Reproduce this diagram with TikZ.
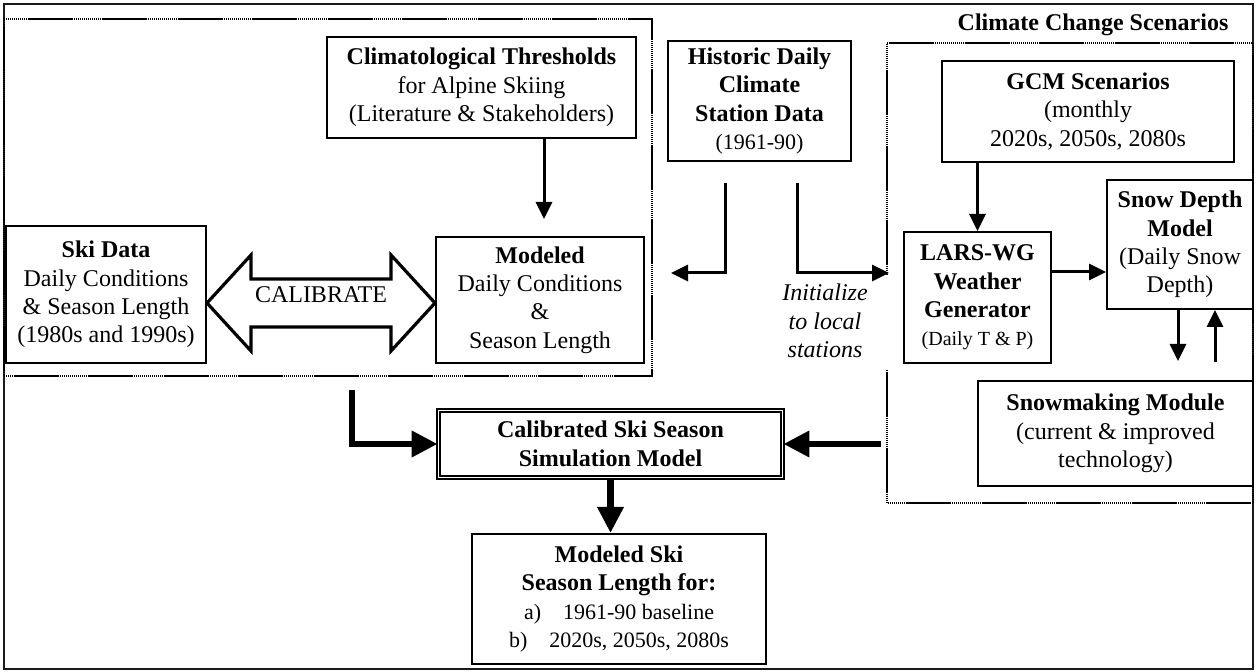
\documentclass[tikz,border=0pt]{standalone}
\usepackage{fontspec}
\setmainfont{Liberation Serif}
\usepackage{tikz}
\usetikzlibrary{arrows.meta,calc}
\definecolor{skink}  {HTML}{000000}
\definecolor{skframe}{HTML}{1A1A1A}
\newcommand{\sksmall}{\fontsize{11}{13}\selectfont}
\tikzset{
  skbox/.style 2 args={draw=skink, fill=white, line width=1pt, inner sep=0pt,
                       align=center, minimum width=#1*0.5pt, minimum height=#2*0.5pt,
                       font=\fontsize{12}{14.2}\selectfont},
  sklabel/.style={inner sep=0pt, align=center, font=\fontsize{12}{14.2}\selectfont},
  skgroup/.style={draw=skink, line width=0.6pt, dash pattern=on 0.5pt off 0.5pt,
                  postaction={draw=skink, line width=1.3pt,
                              dash pattern=on 22pt off 15.5pt, dash phase=-5pt}},
  skarrow/.style={draw=skink, line width=1.5pt, -{Triangle[length=8.5pt, width=8pt]}},
  skthick/.style={draw=skink, line width=3.4pt, -{Triangle[length=13pt, width=12.5pt]}},
  skcalib/.style={draw=skink, line width=1.6pt, line join=miter},
}

\begin{document}
\begin{tikzpicture}[x=0.5pt, y=-0.5pt]
  \useasboundingbox (0,0) rectangle (1257,672);
  \draw[skframe, line width=1pt] (4,4) rectangle (1253,669);

  % calibration group and its boxes
  \node[skgroup, minimum width=324pt, minimum height=178.5pt, inner sep=0pt]
       (grpcal) at (328,197.5) {};
  \node[skbox={309}{101}] (clim) at (481.5,87.5)
       {\textbf{Climatological Thresholds}\\for Alpine Skiing\\(Literature \& Stakeholders)};
  \node[skbox={200}{137}] (ski) at (106,294.5)
       {\textbf{Ski Data}\\Daily Conditions\\\& Season Length\\(1980s and 1990s)};
  \node[skbox={208}{126}] (model) at (540,300)
       {\textbf{Modeled}\\Daily Conditions\\\&\\Season Length};

  % climate change group
  \draw[skgroup] (887,275) |- (1253,43) |- (887,503) -- (887,370);
  \node[sklabel] (cctitle) at (1093,25) {\textbf{Climate Change Scenarios}};
  \node[skbox={292}{101}] (gcm) at (1088,111.5)
       {\textbf{GCM Scenarios}\\(monthly\\2020s, 2050s, 2080s};
  \node[skbox={147}{131}] (lars) at (977.5,297.5)
       {\textbf{LARS-WG}\\\textbf{Weather}\\\textbf{Generator}\\{\fontsize{10}{12}\selectfont(Daily T \& P)}};
  \node[skbox={146}{129}] (snow) at (1180,244.5)
       {\textbf{Snow Depth}\\\textbf{Model}\\(Daily Snow\\Depth)};
  \node[skbox={275}{105}] (snowmk) at (1115.5,433.5)
       {\textbf{Snowmaking Module}\\(current \& improved\\technology)};

  \node[skbox={183}{120}] (hist) at (759.5,101)
       {\textbf{Historic Daily}\\\textbf{Climate}\\\textbf{Station Data}\\{\sksmall(1961-90)}};
  \node[sklabel, font=\fontsize{12}{14.2}\selectfont\itshape] (initlbl) at (825,321)
       {Initialize\\to local\\stations};

  \node[skbox={344}{67}, double, double distance=0.85pt, line width=0.85pt]
       (calib) at (610.5,444) {\textbf{Calibrated Ski Season}\\\textbf{Simulation Model}};
  \node[skbox={294}{130}] (out) at (619,599)
       {\textbf{Modeled Ski}\\\textbf{Season Length for:}\\{\sksmall a)\quad 1961-90 baseline}\\{\sksmall b)\quad 2020s, 2050s, 2080s}};

  % CALIBRATE double arrow
  \coordinate (calL) at ($(ski.east)+(0,8.5)$);
  \coordinate (calR) at ($(model.west)+(0,3)$);
  \draw[skcalib] (calL) -- ++(44,-48) -- ++(0,24) -- ($(calR)+(-44,-24)$) -- ++(0,-24)
       -- (calR) -- ++(-44,48) -- ++(0,-24) -- ($(calL)+(44,24)$) -- ++(0,24) -- cycle;
  \node[sklabel] (callbl) at ($(calL)!0.5!(calR)+(0,-8)$) {CALIBRATE};

  % thin connectors
  \draw[skarrow, shorten >=8.5pt] ([xshift=2pt]model.north |- clim.south) -- ([xshift=2pt]model.north);
  \coordinate (histL) at (671,273);
  \coordinate (histR) at (889,273);
  \draw[skarrow] ($(hist.south)+(-34.5,21)$) |- (histL);
  \draw[skarrow] ($(hist.south)+(37.5,21)$) |- (histR);
  \draw[skarrow] (lars.north |- gcm.south) -- (lars.north);
  \coordinate (larsout) at ($(lars.east)+(0,-25.5)$);
  \draw[skarrow] (larsout) -- (larsout -| snow.west);
  \draw[skarrow, shorten >=9.5pt] ([xshift=-1pt]snow.south) -- ([xshift=-1pt]snow.south |- snowmk.north);
  \draw[skarrow, shorten <=9pt] ([xshift=17.5pt]snow.south |- snowmk.north) -- ([xshift=17.5pt]snow.south);

  % thick connectors
  \coordinate (ccout) at (881,444);
  \draw[skthick] ($(grpcal.south)+(24,13)$) |- (calib.west);
  \draw[skthick] (ccout) -- (calib.east);
  \draw[skthick] (calib.south) -- (calib.south |- out.north);
\end{tikzpicture}
\end{document}
